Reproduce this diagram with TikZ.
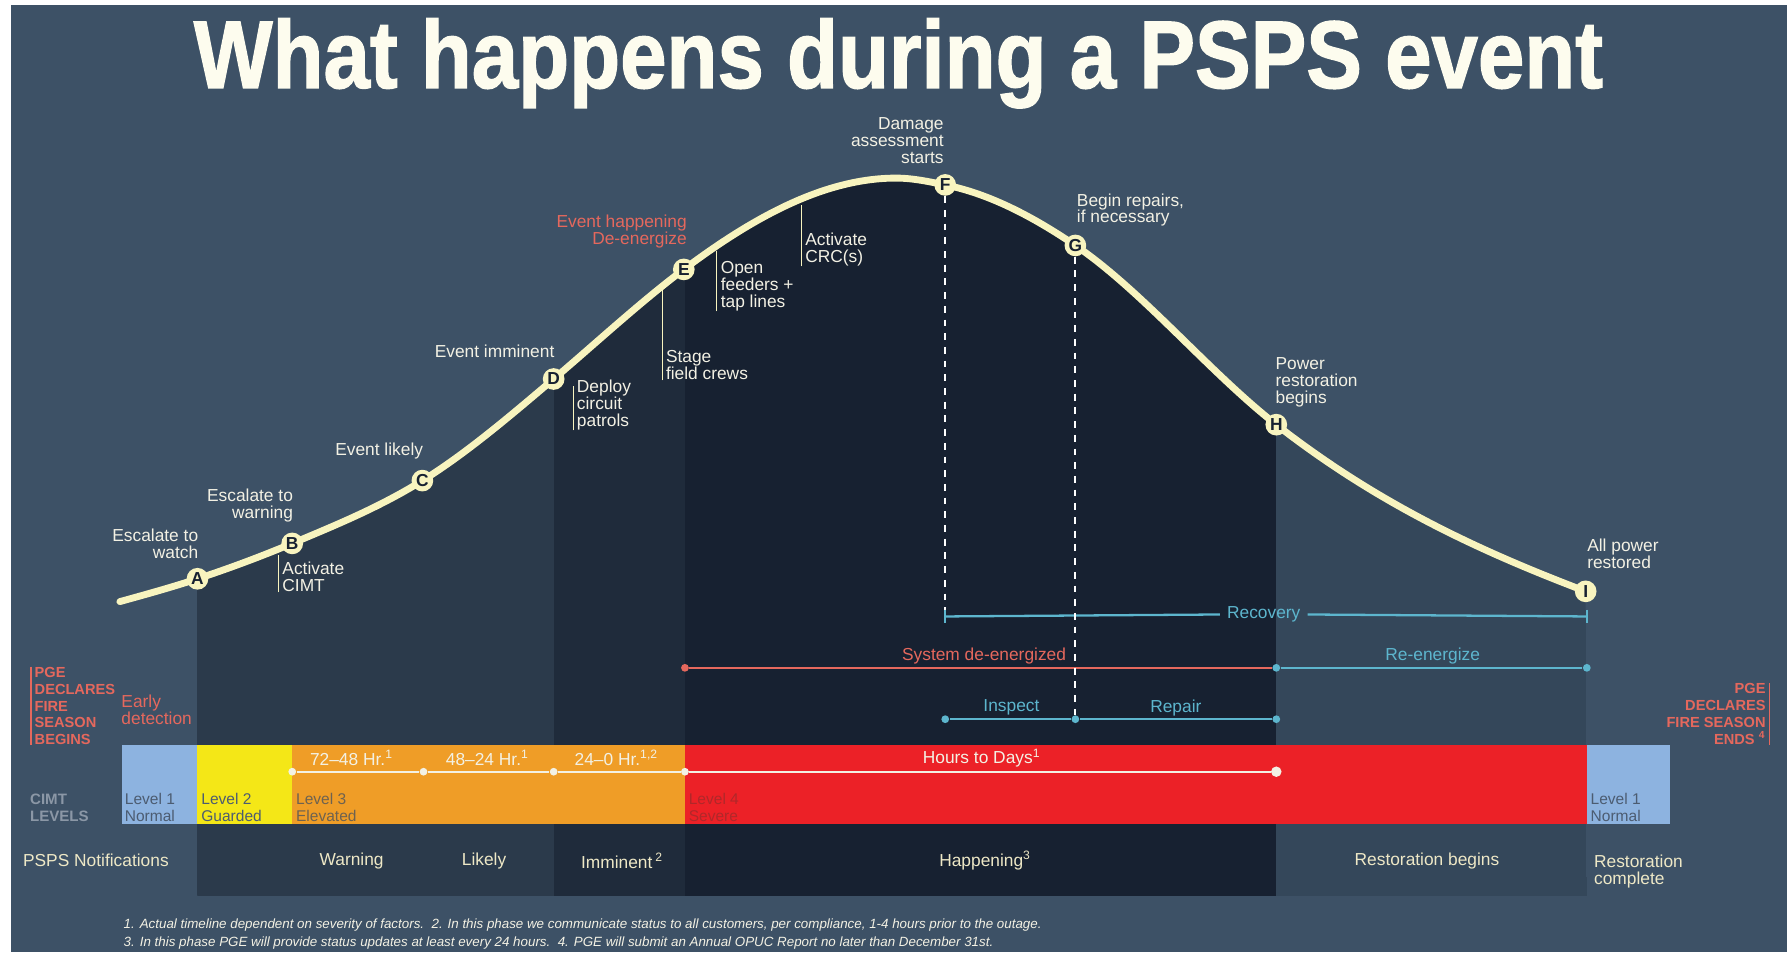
\documentclass[tikz,border=0pt]{standalone}
\usepackage{fontspec}
\setmainfont{Liberation Sans}
\newfontfamily\titlefont{Liberation Sans}[FakeBold=1.5]
\usetikzlibrary{positioning}

\definecolor{bgslate}{HTML}{3D5166}
\definecolor{colwarn}{HTML}{2B3A4B}
\definecolor{colimm}{HTML}{1F2B3B}
\definecolor{colhap}{HTML}{172131}
\definecolor{colrest}{HTML}{34475A}
\definecolor{curvecream}{HTML}{F8F4BF}
\definecolor{titlecream}{HTML}{FDFCEE}
\definecolor{labelwhite}{HTML}{F3F1E4}
\definecolor{phasecream}{HTML}{EEE8C6}
\definecolor{salmon}{HTML}{E5685D}
\definecolor{cyanline}{HTML}{5DB6CE}
\definecolor{lvlblue}{HTML}{8DB3E0}
\definecolor{lvlyellow}{HTML}{F4E717}
\definecolor{lvlorange}{HTML}{EF9D27}
\definecolor{lvlred}{HTML}{EC2127}
\definecolor{lvltext}{HTML}{4C5C71}
\definecolor{lvlbrown}{HTML}{6E6250}
\definecolor{lvldarkred}{HTML}{B0282A}
\definecolor{cimtgray}{HTML}{8B97A6}

\begin{document}
\begin{tikzpicture}[x=0.5pt, y=-0.5pt,
		every node/.style={inner sep=0pt, font=\fontsize{7.6}{7.4}\selectfont},
		milestone/.style={circle, fill=curvecream, minimum size=9.5pt, text=colhap, font=\fontsize{7.6}{7.6}\selectfont\bfseries},
		eventlabel/.style={text=labelwhite},
		sidelabel/.style={eventlabel, anchor=west, align=left, inner xsep=1.5pt},
		leader/.style={curvecream, line width=0.5pt},
		dashline/.style={white, line width=0.8pt, dash pattern=on 3pt off 3pt},
		phaseline/.style={line width=1pt},
		enddot/.style={circle, fill=#1, minimum size=3.4pt},
		lvltxt/.style={anchor=west, align=left, font=\fontsize{6.8}{7.4}\selectfont},
		pgetext/.style={text=salmon, font=\fontsize{6.4}{7.4}\selectfont\bfseries},
	]
	\useasboundingbox (0,0) rectangle (1568,834);
	\fill[white] (0,0) rectangle (1568,834);
	\fill[bgslate] (9.6,4.4) rectangle (1565.5,834);

	\node[font=\titlefont\bfseries\fontsize{42}{42}\selectfont, text=titlecream, anchor=base] (title) at (787,77) {\scalebox{0.87}[1]{What happens during a PSPS event}};

	\coordinate (c0) at (105,527);
	\coordinate (pA) at (173,507);
	\coordinate (pB) at (256,476);
	\coordinate (pC) at (370,421);
	\coordinate (pD) at (485,332);
	\coordinate (pE) at (599,236);
	\coordinate (top) at (785,156);
	\coordinate (pF) at (828,162);
	\coordinate (pG) at (942,215);
	\coordinate (pH) at (1118,372);
	\coordinate (pI) at (1389,518);

	\begin{scope}
		\clip (c0) .. controls (127.7,520.7) and (150.3,514.5) .. (pA)
			.. controls (200.7,497.9) and (228.3,487.6) .. (pB)
			.. controls (294,460) and (332,444.6) .. (pC)
			.. controls (408.3,397.2) and (446.7,364.6) .. (pD)
			.. controls (523,299.7) and (561,264.5) .. (pE)
			.. controls (661,189.5) and (723,156) .. (top)
			.. controls (799.3,156) and (813.7,159.1) .. (pF)
			.. controls (866,169.6) and (904,189.2) .. (pG)
			.. controls (1000.7,254.9) and (1059.3,326.2) .. (pH)
			.. controls (1208.3,442.5) and (1298.7,483.7) .. (pI)
			-- (1390,785) -- (173,785) -- cycle;
		\fill[colwarn] (173,100) rectangle (485,785);
		\fill[colimm] (485,100) rectangle (600,785);
		\fill[colhap] (600,100) rectangle (1118,785);
		\fill[colrest] (1118,100) rectangle (1390,785);
	\end{scope}

	\fill[lvlblue] (107,653) rectangle (173,722);
	\fill[lvlyellow] (173,653) rectangle (256,722);
	\fill[lvlorange] (256,653) rectangle (600,722);
	\fill[lvlred] (600,653) rectangle (1390,722);
	\fill[lvlblue] (1390,653) rectangle (1463,722);

	\draw[curvecream, line width=3pt, line cap=round] (c0) .. controls (127.7,520.7) and (150.3,514.5) .. (pA)
		.. controls (200.7,497.9) and (228.3,487.6) .. (pB)
		.. controls (294,460) and (332,444.6) .. (pC)
		.. controls (408.3,397.2) and (446.7,364.6) .. (pD)
		.. controls (523,299.7) and (561,264.5) .. (pE)
		.. controls (661,189.5) and (723,156) .. (top)
		.. controls (799.3,156) and (813.7,159.1) .. (pF)
		.. controls (866,169.6) and (904,189.2) .. (pG)
		.. controls (1000.7,254.9) and (1059.3,326.2) .. (pH)
		.. controls (1208.3,442.5) and (1298.7,483.7) .. (pI);

	\foreach \m in {A,B,C,D,E,F,G,H,I}
		\node[milestone] (\m) at (p\m) {\m};

	\node[eventlabel, anchor=east, align=right] (watch) at (174,476.5) {Escalate to\\watch};
	\node[eventlabel, anchor=east, align=right] (warning) at (257,442.5) {Escalate to\\warning};
	\node[eventlabel, anchor=east] (likely) at (371,395) {Event likely};
	\node[eventlabel, anchor=east] (imminent) at (486,308) {Event imminent};
	\node[text=salmon, anchor=east, align=right] (happening) at (602,203) {Event happening\\De-energize};
	\node[eventlabel, anchor=east, align=right] (damage) at (827,123) {Damage\\assessment\\starts};
	\node[eventlabel, anchor=west, align=left] (repairs) at (943,184) {Begin repairs,\\if necessary};
	\node[eventlabel, anchor=west, align=left] (restore) at (1117,335) {Power\\restoration\\begins};
	\node[eventlabel, anchor=west, align=left] (allpower) at (1390,485.5) {All power\\restored};

	\node[sidelabel] (cimt) at (244,505.5) {Activate\\CIMT};
	\node[sidelabel] (patrols) at (502,354.7) {Deploy\\circuit\\patrols};
	\node[sidelabel] (crews) at (580,320) {Stage\\field crews};
	\node[sidelabel] (feeders) at (628,250.7) {Open\\feeders +\\tap lines};
	\node[sidelabel] (crc) at (702,218.5) {Activate\\CRC(s)};
	\coordinate (cimtTop) at (244,486);
	\coordinate (patrolsTop) at (502,338);
	\coordinate (crewsTop) at (580,253);
	\coordinate (feedersTop) at (628,220);
	\coordinate (crcTop) at (702,180);
	\foreach \l in {cimt,patrols,crews,feeders,crc}
		\draw[leader] (\l.south west) -- (\l.south west |- \l Top);

	\coordinate (recL) at (828,540);
	\coordinate (recR) at (1390,540);
	\draw[dashline] (F.south) -- (recL);
	\node[text=cyanline, inner xsep=3pt] (recovery) at (1107,538) {Recovery};
	\draw[cyanline, phaseline] (recL) -- (recovery);
	\draw[cyanline, phaseline] (recovery) -- (recR);
	\draw[cyanline, phaseline] (recL) ++(0,-6) -- ++(0,12);
	\draw[cyanline, phaseline] (recR) ++(0,-6) -- ++(0,12);

	\node[enddot=salmon] (sd0) at (600,585) {};
	\node[enddot=cyanline] (rz0) at (1118,585) {};
	\node[enddot=cyanline] (rz1) at (1390,585) {};
	\draw[salmon, phaseline] (sd0) -- (rz0);
	\draw[cyanline, phaseline] (rz0) -- (rz1);
	\node[text=salmon] (deenergized) at (862,575) {System de-energized};
	\node[text=cyanline] (reenergize) at (1255,575) {Re-energize};

	\node[enddot=cyanline] (ins0) at (828,630) {};
	\node[enddot=cyanline] (ins1) at (942,630) {};
	\node[enddot=cyanline] (ins2) at (1118,630) {};
	\draw[dashline] (G.south) -- (ins1);
	\draw[cyanline, phaseline] (ins0) -- (ins1);
	\draw[cyanline, phaseline] (ins1) -- (ins2);
	\node[text=cyanline] (inspect) at (886,620) {Inspect};
	\node[text=cyanline] (repair) at (1030,620) {Repair};

	\node[pgetext, anchor=west, align=left, inner xsep=1.5pt] (begins) at (27,618.5) {PGE\\DECLARES\\FIRE\\SEASON\\BEGINS};
	\draw[salmon, line width=0.6pt] (begins.north west) -- (begins.south west);
	\node[text=salmon, anchor=west, align=left] (early) at (106,621.5) {Early\\detection};
	\node[pgetext, anchor=east, align=right, inner xsep=1.5pt] (ends) at (1550,625.5) {PGE\\DECLARES\\FIRE SEASON\\ENDS \textsuperscript{4}};
	\draw[salmon, line width=0.6pt] (ends.north east) -- (ends.south east);

	\node[text=cimtgray, anchor=west, align=left, font=\fontsize{6.6}{7.4}\selectfont\bfseries] (cimtlevels) at (26,707.5) {CIMT\\LEVELS};
	\node[lvltxt, text=lvltext] (lvl1) at (109,707.5) {Level 1\\Normal};
	\node[lvltxt, text=lvltext] (lvl2) at (176,707.5) {Level 2\\Guarded};
	\node[lvltxt, text=lvlbrown] (lvl3) at (259,707.5) {Level 3\\Elevated};
	\node[lvltxt, text=lvldarkred] (lvl4) at (603,707.5) {Level 4\\Severe};
	\node[lvltxt, text=lvltext] (lvl1b) at (1393,707.5) {Level 1\\Normal};

	\node[enddot=labelwhite] (t0) at (256,676) {};
	\node[enddot=labelwhite] (t1) at (371,676) {};
	\node[enddot=labelwhite] (t2) at (485,676) {};
	\node[enddot=labelwhite] (t3) at (600,676) {};
	\node[enddot=labelwhite, minimum size=4.6pt] (t4) at (1118,676) {};
	\draw[labelwhite, phaseline] (t0) -- (t1);
	\draw[labelwhite, phaseline] (t1) -- (t2);
	\draw[labelwhite, phaseline] (t2) -- (t3);
	\draw[labelwhite, phaseline] (t3) -- (t4);
	\node[text=labelwhite] (h72) at (308,664) {72--48 Hr.\textsuperscript{1}};
	\node[text=labelwhite] (h48) at (427,664) {48--24 Hr.\textsuperscript{1}};
	\node[text=labelwhite] (h24) at (540,664) {24--0 Hr.\textsuperscript{1,2}};
	\node[text=labelwhite] (hdays) at (860,664) {Hours to Days\textsuperscript{1}};

	\node[text=phasecream] (notif) at (84,754) {PSPS Notifications};
	\node[text=phasecream] (pwarn) at (308,754) {Warning};
	\node[text=phasecream] (plikely) at (424,754) {Likely};
	\node[text=phasecream] (pimm) at (545,754) {Imminent\,\textsuperscript{2}};
	\node[text=phasecream] (phap) at (863,754) {Happening\textsuperscript{3}};
	\node[text=phasecream] (prest) at (1250,754) {Restoration begins};
	\node[text=phasecream, anchor=west, align=left] (pdone) at (1396,763.5) {Restoration\\complete};

	\node[text=labelwhite, anchor=west, font=\fontsize{5.85}{6}\selectfont\itshape] (fn1) at (108,810) {1. Actual timeline dependent on severity of factors.\ \ 2. In this phase we communicate status to all customers, per compliance, 1-4 hours prior to the outage.};
	\node[text=labelwhite, anchor=west, font=\fontsize{5.85}{6}\selectfont\itshape] (fn2) at (108,826) {3. In this phase PGE will provide status updates at least every 24 hours.\ \ 4. PGE will submit an Annual OPUC Report no later than December 31st.};
\end{tikzpicture}
\end{document}
